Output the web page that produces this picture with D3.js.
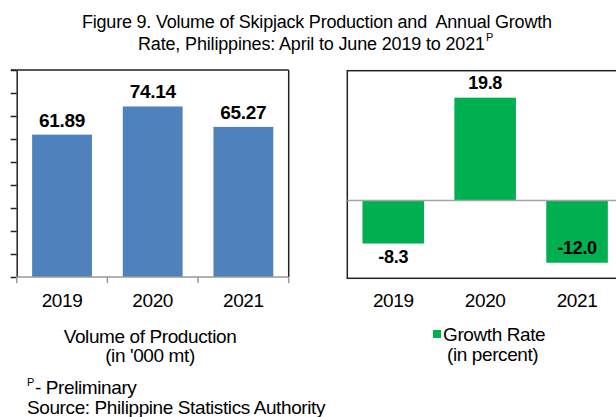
<!DOCTYPE html>
<html>
<head>
<meta charset="utf-8">
<script src="https://cdn.jsdelivr.net/npm/d3@7"></script>
<style>
  body { margin: 0; background: #fff; }
  text { font-family: "Liberation Sans", Arial, sans-serif; fill: #000; white-space: pre; }
  .lbl { font-size: 19px; letter-spacing: -0.4px; }
</style>
</head>
<body>
<div id="chart"></div>
<script>
const years = ['2019', '2020', '2021'];
const volume = [61.89, 74.14, 65.27];
const growth = [-8.3, 19.8, -12.0];
const volumeTicks = [0, 10, 20, 30, 40, 50, 60, 70, 80, 90];

const w = 616;
const h = 417;

const svg = d3.select('#chart')
  .append('svg')
  .attr('width', w)
  .attr('height', h);

// title
svg.append('text')
  .attr('x', 82).attr('y', 28)
  .attr('textLength', 470).attr('lengthAdjust', 'spacing')
  .style('font-size', '18px')
  .text('Figure 9. Volume of Skipjack Production and  Annual Growth');
svg.append('text')
  .attr('x', 138).attr('y', 50)
  .attr('textLength', 347).attr('lengthAdjust', 'spacing')
  .style('font-size', '18px')
  .text('Rate, Philippines: April to June 2019 to 2021');
svg.append('text')
  .attr('x', 486).attr('y', 41)
  .style('font-size', '11px')
  .text('P');

// ---- left chart: volume ----
const xL = d3.scaleBand()
  .domain(years)
  .range([16.7, 288.7])
  .paddingInner(0.34)
  .paddingOuter(0.17);

const yL = d3.scaleLinear()
  .domain([0, 90])
  .range([277, 70]);

const left = svg.append('g');

left.selectAll('rect.bar')
  .data(volume)
  .enter()
  .append('rect')
  .attr('class', 'bar')
  .attr('x', (d, i) => xL(years[i]))
  .attr('y', d => yL(d))
  .attr('width', xL.bandwidth())
  .attr('height', d => yL(0) - yL(d))
  .style('fill', '#4f81bd');

left.selectAll('text.val')
  .data(volume)
  .enter()
  .append('text')
  .attr('class', 'val')
  .attr('x', (d, i) => xL(years[i]) + xL.bandwidth() / 2)
  .attr('y', d => yL(d) - 8)
  .attr('text-anchor', 'middle')
  .style('font-size', '19px')
  .style('letter-spacing', '-0.3px')
  .style('font-weight', 'bold')
  .text(d => d.toFixed(2));

// frame top + right
left.append('line')
  .attr('x1', 11).attr('x2', 288.7)
  .attr('y1', yL(90)).attr('y2', yL(90))
  .style('stroke', '#222').style('stroke-width', 1.5);
left.append('line')
  .attr('x1', 288.7).attr('x2', 288.7)
  .attr('y1', yL(90)).attr('y2', yL(0))
  .style('stroke', '#222').style('stroke-width', 1.5);

const yAxisL = d3.axisLeft(yL)
  .tickValues(volumeTicks)
  .tickSize(6)
  .tickSizeOuter(0)
  .tickFormat('');

left.append('g')
  .attr('transform', 'translate(16.7,0)')
  .call(yAxisL)
  .call(g => g.selectAll('line, path').style('stroke', '#222').style('stroke-width', 1.5));

// bottom axis, ticks between categories
left.append('line')
  .attr('x1', 16.7).attr('x2', 288.7)
  .attr('y1', yL(0)).attr('y2', yL(0))
  .style('stroke', '#999').style('stroke-width', 1.5);

const boundsL = years.map(y => xL(y) - xL.step() * xL.paddingInner() / 2).concat([288.7]);
boundsL[0] = 16.7;
left.selectAll('line.sep')
  .data(boundsL)
  .enter()
  .append('line')
  .attr('class', 'sep')
  .attr('x1', d => d).attr('x2', d => d)
  .attr('y1', yL(0)).attr('y2', yL(0) + 6)
  .style('stroke', '#999').style('stroke-width', 1.5);

left.selectAll('text.yr')
  .data(years)
  .enter()
  .append('text')
  .attr('class', 'yr lbl')
  .attr('x', d => xL(d) + xL.bandwidth() / 2)
  .attr('y', 307)
  .attr('text-anchor', 'middle')
  .text(d => d);

left.append('text')
  .attr('class', 'lbl')
  .attr('x', 150).attr('y', 343)
  .attr('text-anchor', 'middle')
  .text('Volume of Production');
left.append('text')
  .attr('class', 'lbl')
  .attr('x', 150).attr('y', 362)
  .attr('text-anchor', 'middle')
  .text("(in '000 mt)");

// ---- right chart: growth rate ----
const xR = d3.scaleBand()
  .domain(years)
  .range([347.3, 623])
  .paddingInner(0.33)
  .paddingOuter(0.165);

const yR = d3.scaleLinear()
  .domain([-15, 25])
  .range([278.3, 70.7]);

const right = svg.append('g');

right.append('rect')
  .attr('x', 347.3)
  .attr('y', yR(25))
  .attr('width', 623 - 347.3)
  .attr('height', yR(-15) - yR(25))
  .style('fill', 'none')
  .style('stroke', '#222')
  .style('stroke-width', 1.5);

right.selectAll('rect.bar')
  .data(growth)
  .enter()
  .append('rect')
  .attr('class', 'bar')
  .attr('x', (d, i) => xR(years[i]))
  .attr('y', d => yR(Math.max(d, 0)))
  .attr('width', xR.bandwidth())
  .attr('height', d => Math.abs(yR(d) - yR(0)))
  .style('fill', '#00b050');

right.append('line')
  .attr('x1', 347.3).attr('x2', 623)
  .attr('y1', yR(0)).attr('y2', yR(0))
  .style('stroke', '#a6a6a6').style('stroke-width', 1.5);

right.selectAll('text.val')
  .data(growth)
  .enter()
  .append('text')
  .attr('class', 'val')
  .attr('x', (d, i) => xR(years[i]) + xR.bandwidth() / 2)
  .attr('y', (d, i) => d > 0 ? yR(d) - 9 : (i === 2 ? yR(d) - 9 : yR(d) + 19))
  .attr('text-anchor', 'middle')
  .style('font-size', '18px')
  .style('letter-spacing', '-0.3px')
  .style('font-weight', 'bold')
  .text(d => d.toFixed(1));

right.selectAll('text.yr')
  .data(years)
  .enter()
  .append('text')
  .attr('class', 'yr lbl')
  .attr('x', d => xR(d) + xR.bandwidth() / 2)
  .attr('y', 307)
  .attr('text-anchor', 'middle')
  .text(d => d);

right.append('rect')
  .attr('x', 433).attr('y', 330)
  .attr('width', 8).attr('height', 8)
  .style('fill', '#00b050');
right.append('text')
  .attr('class', 'lbl')
  .attr('x', 443).attr('y', 341)
  .text('Growth Rate');
right.append('text')
  .attr('class', 'lbl')
  .attr('x', 447).attr('y', 361)
  .text('(in percent)');

// notes
svg.append('text')
  .attr('x', 27).attr('y', 386)
  .style('font-size', '11px')
  .text('P');
svg.append('text')
  .attr('class', 'lbl')
  .attr('x', 35).attr('y', 394)
  .text('- Preliminary');
svg.append('text')
  .attr('class', 'lbl')
  .attr('x', 27).attr('y', 414)
  .text('Source: Philippine Statistics Authority');
</script>
</body>
</html>
